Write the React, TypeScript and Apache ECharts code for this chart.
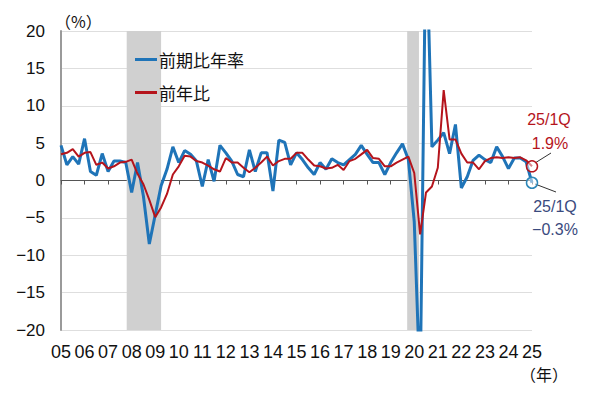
import React, { useEffect, useRef } from "react";
import * as echarts from "echarts";

// Quarterly data, 2005Q1 .. 2025Q1 (81 quarters)
const startYear = 2005;
const yearTicks = { min: 2005, max: 2025 };

// 前期比年率 (q/q annualized, %)
const qoqAnnualized = [
  4.7, 2.1, 3.2, 2.2, // 2005
  5.6, 1.2, 0.7, 3.6, // 2006
  1.2, 2.6, 2.6, 2.4, // 2007
  -1.6, 2.4, -2.1, -8.5, // 2008
  -4.6, -0.7, 1.5, 4.5, // 2009
  2.4, 4.0, 3.5, 2.6, // 2010
  -0.8, 2.8, -0.1, 4.7, // 2011
  3.7, 2.6, 0.8, 0.5, // 2012
  4.1, 1.2, 3.7, 3.7, // 2013
  -1.4, 5.4, 5.1, 2.1, // 2014
  3.7, 2.8, 1.7, 0.8, // 2015
  2.4, 1.5, 2.9, 2.4, // 2016
  2.1, 2.8, 3.5, 4.7, // 2017
  3.5, 2.4, 2.4, 0.8, // 2018
  2.4, 3.7, 4.9, 2.8, // 2019
  -5.5, -28.0, 34.8, 4.5, // 2020
  5.4, 6.4, 3.6, 7.5, // 2021
  -1.0, 0.5, 2.7, 3.4, // 2022
  2.8, 2.4, 4.5, 3.2, // 2023
  1.6, 3.0, 3.0, 2.5, // 2024
  -0.3, // 2025
];

// 前年比 (y/y, %)
const yoy = [
  3.5, 3.7, 4.2, 3.2, // 2005
  3.7, 3.8, 2.1, 2.4, // 2006
  1.6, 1.9, 2.4, 2.5, // 2007
  2.8, 0.9, -0.5, -2.6, // 2008
  -4.9, -3.6, -1.8, 0.8, // 2009
  1.9, 3.3, 3.2, 2.6, // 2010
  2.4, 2.0, 1.5, 1.2, // 2011
  3.0, 2.4, 2.4, 1.7, // 2012
  1.1, 1.7, 2.4, 3.2, // 2013
  2.0, 2.6, 2.9, 2.9, // 2014
  3.7, 3.7, 2.8, 2.0, // 2015
  1.9, 1.6, 1.7, 2.1, // 2016
  1.4, 2.6, 2.9, 3.5, // 2017
  4.1, 3.0, 2.9, 1.9, // 2018
  1.9, 2.4, 2.8, 3.2, // 2019
  1.0, -7.2, -1.6, -0.8, // 2020
  1.7, 12.1, 5.5, 5.5, // 2021
  3.6, 2.4, 2.4, 1.5, // 2022
  2.6, 3.0, 3.1, 3.0, // 2023
  3.1, 3.0, 3.1, 2.7, // 2024
  1.9, // 2025
];

// Recession shading (year fractions)
const recessions = [
  [2007.79, 2009.25],
  [2019.7, 2020.2],
];

const seriesNames = ["前期比年率", "前年比"];
const BLUE = "#1f74b8";
const RED = "#b5141c";
const FONT = "'Liberation Sans', Arial, 'Noto Sans CJK JP', sans-serif";
const JFONT = "'Noto Sans CJK JP', 'Liberation Sans', sans-serif";

const toPoints = (vals: number[]) =>
  vals.map((v, i) => [startYear + i / 4, v]);

const minus = (v: number) => (v < 0 ? "\u2212" + Math.abs(v) : String(v));

export default function App() {
  const ref = useRef<HTMLDivElement>(null);
  useEffect(() => {
    if (!ref.current) return;
    const chart = echarts.init(ref.current, null, { renderer: "svg" });
    const lastIdx = qoqAnnualized.length - 1;
    const lastX = startYear + lastIdx / 4;
    chart.setOption({
      animation: false,
      backgroundColor: "#ffffff",
      grid: { left: 61, right: 68, top: 31, bottom: 67 },
      legend: {
        data: seriesNames.map((n) => ({ name: n, icon: "rect" })),
        orient: "vertical",
        left: 130,
        top: 46,
        itemWidth: 22,
        itemHeight: 3,
        itemGap: 16,
        textStyle: { fontSize: 17, color: "#111", fontFamily: JFONT, padding: [0, 0, 0, -3] },
      },
      xAxis: [
        {
          type: "value",
          min: yearTicks.min,
          max: yearTicks.max,
          interval: 1,
          position: "bottom",
          axisLine: { show: false, onZero: false },
          axisTick: { show: false },
          splitLine: { show: false },
          axisLabel: {
            fontSize: 18,
            color: "#111",
            fontFamily: FONT,
            margin: 13,
            formatter: (v: number) => String(v % 100).padStart(2, "0"),
          },
        },
        {
          type: "value",
          min: yearTicks.min,
          max: yearTicks.max,
          interval: 1,
          position: "bottom",
          axisLine: { show: true, onZero: true, lineStyle: { color: "#555", width: 1 } },
          axisTick: { show: true, length: 4, lineStyle: { color: "#555", width: 1 } },
          axisLabel: { show: false },
          splitLine: { show: false },
        },
      ],
      yAxis: {
        type: "value",
        min: -20,
        max: 20,
        interval: 5,
        axisLine: { show: true, lineStyle: { color: "#9a9a9a", width: 2 } },
        axisTick: { show: false },
        splitLine: { lineStyle: { color: "#dedede", width: 1 } },
        axisLabel: {
          fontSize: 17,
          color: "#111",
          fontFamily: FONT,
          margin: 16,
          formatter: (v: number) => minus(v),
        },
      },
      series: [
        {
          type: "line",
          name: "_recession",
          data: [],
          z: 1,
          silent: true,
          markArea: {
            silent: true,
            itemStyle: { color: "#d0d0d0" },
            data: recessions.map(([a, b]) => [{ xAxis: a }, { xAxis: b }]),
          },
        },
        {
          type: "line",
          name: seriesNames[0],
          data: toPoints(qoqAnnualized),
          showSymbol: false,
          z: 3,
          lineStyle: { color: BLUE, width: 3 },
          itemStyle: { color: BLUE },
          markPoint: {
            silent: true,
            symbol: "circle",
            symbolSize: 11,
            label: { show: false },
            itemStyle: { color: "rgba(255,255,255,0.5)", borderColor: "#2d87b8", borderWidth: 1.5 },
            data: [{ coord: [lastX, qoqAnnualized[lastIdx]] }],
          },
        },
        {
          type: "line",
          name: seriesNames[1],
          data: toPoints(yoy),
          showSymbol: false,
          z: 4,
          lineStyle: { color: RED, width: 2 },
          itemStyle: { color: RED },
          markPoint: {
            silent: true,
            symbol: "circle",
            symbolSize: 11,
            label: { show: false },
            itemStyle: { color: "rgba(255,255,255,0.5)", borderColor: RED, borderWidth: 1.5 },
            data: [{ coord: [lastX, yoy[lastIdx]] }],
          },
        },
      ],
      graphic: [
        {
          type: "text",
          left: 55,
          top: 13,
          style: { text: "（%）", fontSize: 16, fill: "#111", fontFamily: JFONT },
        },
        {
          type: "text",
          left: 520,
          top: 366,
          style: { text: "（年）", fontSize: 16, fill: "#111", fontFamily: JFONT },
        },
        {
          type: "text",
          x: 549,
          y: 119,
          style: { text: "25/1Q", fontSize: 16, fill: RED, fontFamily: FONT, align: "center", verticalAlign: "middle" },
        },
        {
          type: "text",
          x: 550,
          y: 143,
          style: { text: "1.9%", fontSize: 16, fill: RED, fontFamily: FONT, align: "center", verticalAlign: "middle" },
        },
        {
          type: "text",
          x: 555,
          y: 206,
          style: { text: "25/1Q", fontSize: 16, fill: "#3a4a7e", fontFamily: FONT, align: "center", verticalAlign: "middle" },
        },
        {
          type: "text",
          x: 555,
          y: 229,
          style: { text: "\u22120.3%", fontSize: 16, fill: "#3a4a7e", fontFamily: FONT, align: "center", verticalAlign: "middle" },
        },
        {
          type: "line",
          shape: { x1: 535, y1: 163, x2: 551, y2: 153 },
          style: { stroke: "#333", lineWidth: 1 },
        },
        {
          type: "line",
          shape: { x1: 535, y1: 184, x2: 556, y2: 192 },
          style: { stroke: "#333", lineWidth: 1 },
        },
      ],
    });
    return () => chart.dispose();
  }, []);
  return <div ref={ref} style={{ width: 600, height: 397, margin: -8 }} />;
}
